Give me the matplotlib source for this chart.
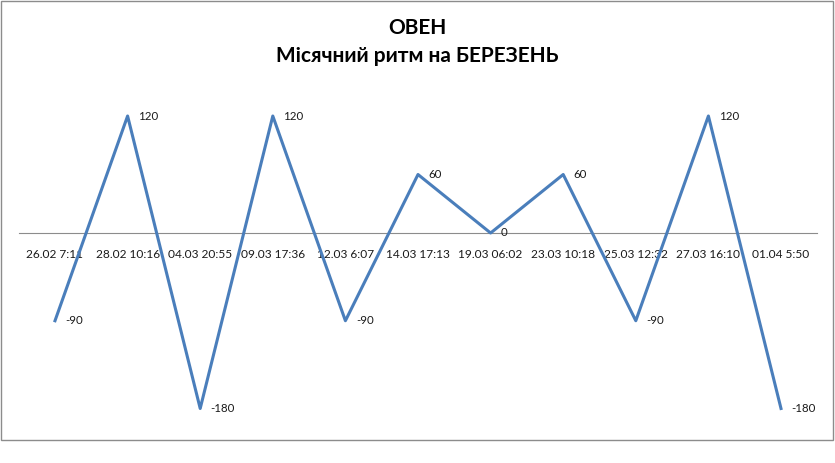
import matplotlib.pyplot as plt
from matplotlib.patches import Rectangle

plt.rcParams['font.family'] = ['Lato', 'DejaVu Sans']

dates = ['26.02 7:11', '28.02 10:16', '04.03 20:55', '09.03 17:36', '12.03 6:07',
         '14.03 17:13', '19.03 06:02', '23.03 10:18', '25.03 12:32', '27.03 16:10',
         '01.04 5:50']
values = [-90, 120, -180, 120, -90, 60, 0, 60, -90, 120, -180]

W, H = 835, 463
fig = plt.figure(figsize=(W / 100, H / 100), dpi=100)

# рамка как в Excel
fig.patches.append(Rectangle((1 / W, 1 - 440 / H), 832 / W, 439 / H,
                             transform=fig.transFigure, fill=False,
                             edgecolor='#8c8c8c', linewidth=1))

ax = fig.add_axes([18.7 / W, (H - 428) / H, (817.3 - 18.7) / W, (428 - 86.75) / H])
x = list(range(len(values)))
ax.plot(x, values, color='#4a7ebb', linewidth=2.2, zorder=3)

for xi, v in zip(x, values):
    ax.annotate(str(v), (xi, v), xytext=(7.5, 0), textcoords='offset points',
                ha='left', va='center', fontsize=8.3, color='#1a1a1a')

ax.set_xlim(-0.5, len(values) - 0.5)
ax.set_ylim(-200, 150)
ax.set_xticks(x)
ax.set_xticklabels(dates)
ax.set_yticks([])
for s in ['top', 'right', 'left']:
    ax.spines[s].set_visible(False)
ax.spines['bottom'].set_position(('data', 0))
ax.spines['bottom'].set_color('#8c8c8c')
ax.tick_params(axis='x', length=0, pad=11.5, labelsize=8.6, labelcolor='#1a1a1a')
ax.patch.set_visible(False)

fig.text(0.5, 1 - 28 / H, 'ОВЕН', ha='center', va='center', fontsize=15, fontweight='bold')
fig.text(0.5, 1 - 56 / H, 'Місячний ритм на БЕРЕЗЕНЬ', ha='center', va='center',
         fontsize=15, fontweight='bold')

fig.savefig('out.png', dpi=100)
